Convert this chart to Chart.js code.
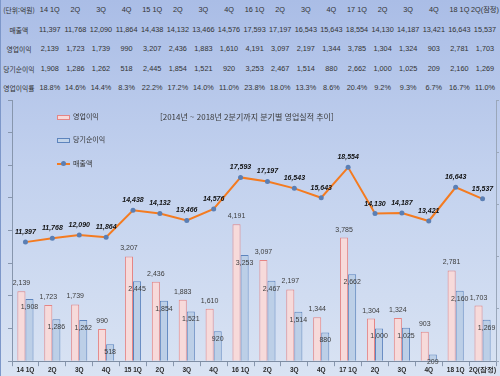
<!DOCTYPE html>
<html lang="ko">
<head>
<meta charset="UTF-8">
<title>분기별 영업실적 추이</title>
<script src="https://cdn.jsdelivr.net/npm/chart.js"></script>
<style>
  body { margin: 0; }
  #wrap {
    position: relative; width: 500px; height: 376px; overflow: hidden;
    background: linear-gradient(#aabde6 0%, #c2d1ee 45%, #d9e3f3 100%);
    font-family: "Liberation Sans", "Noto Sans CJK KR", sans-serif;
    color: #333;
  }
  #wrap::before {
    content: ""; position: absolute; left: 0; top: 0; width: 1px; height: 376px; background: #7d97c9;
  }
  canvas { position: absolute; left: 0; top: 0; }
  .cell {
    position: absolute; width: 40px; text-align: center; font-size: 7.3px;
    line-height: 12px; white-space: nowrap;
  }
  .rowlab { font-family: "Noto Sans CJK KR", sans-serif; font-size: 6.8px; }
  #title {
    position: absolute; left: 160px; top: 111px; font-size: 8px; color: #3a3a3a;
    font-family: "Noto Sans CJK KR", sans-serif; white-space: nowrap; z-index: 2;
  }
  .leg { position: absolute; left: 57px; font-size: 7px; font-family: "Noto Sans CJK KR", sans-serif; color: #333; z-index: 2; }
  .leg i { display: inline-block; width: 11px; height: 3px; vertical-align: middle; margin-right: 3px; }
</style>
</head>
<body>
<div id="wrap">
  <div id="tbl"></div>
  <div id="title">[2014년 ~ 2018년 2분기까지 분기별 영업실적 추이]</div>
  <div class="leg" style="top:111px"><i style="background:#f7dada;border:1px solid #e58585"></i>영업이익</div>
  <div class="leg" style="top:134px"><i style="background:#c2d4ea;border:1px solid #5d84bd"></i>당기순이익</div>
  <div class="leg" style="top:158px"><i style="background:#f47b20;height:2px;width:13px;position:relative"><b style="position:absolute;left:4px;top:-2px;width:5px;height:5px;border-radius:50%;background:#5b7fb4"></b></i>매출액</div>
  <canvas id="chart" width="500" height="376"></canvas>
</div>
<script>
  // 단위: 억원
  const quarters = ['14 1Q', '2Q', '3Q', '4Q', '15 1Q', '2Q', '3Q', '4Q', '16 1Q', '2Q', '3Q', '4Q', '17 1Q', '2Q', '3Q', '4Q', '18 1Q', '2Q(잠정)'];
  const sales = [11397, 11768, 12090, 11864, 14438, 14132, 13466, 14576, 17593, 17197, 16543, 15643, 18554, 14130, 14187, 13421, 16643, 15537];
  const opProfit = [2139, 1723, 1739, 990, 3207, 2436, 1883, 1610, 4191, 3097, 2197, 1344, 3785, 1304, 1324, 903, 2781, 1703];
  const netProfit = [1908, 1286, 1262, 518, 2445, 1854, 1521, 920, 3253, 2467, 1514, 880, 2662, 1000, 1025, 209, 2160, 1269];
  const opMargin = ['18.8%', '14.6%', '14.4%', '8.3%', '22.2%', '17.2%', '14.0%', '11.0%', '23.8%', '18.0%', '13.3%', '8.6%', '20.4%', '9.2%', '9.3%', '6.7%', '16.7%', '11.0%'];

  const fmt = v => v.toLocaleString('en-US');

  // 상단 표
  const tbl = document.getElementById('tbl');
  const rows = [
    ['(단위:억원)', quarters],
    ['매출액', sales.map(fmt)],
    ['영업이익', opProfit.map(fmt)],
    ['당기순이익', netProfit.map(fmt)],
    ['영업이익률', opMargin]
  ];
  rows.forEach((r, ri) => {
    const y = 10 + ri * 19.5 - 6;
    const lab = document.createElement('div');
    lab.className = 'cell rowlab';
    lab.style.left = (19 - 20) + 'px';
    lab.style.top = y + 'px';
    lab.textContent = r[0];
    tbl.appendChild(lab);
    r[1].forEach((t, ci) => {
      const d = document.createElement('div');
      d.className = 'cell';
      if (/[가-힣]/.test(t)) d.style.fontFamily = '"Liberation Sans", "Noto Sans CJK KR", sans-serif';
      d.style.left = (49.8 + ci * 25.6 - 20) + 'px';
      d.style.top = y + 'px';
      d.textContent = t;
      tbl.appendChild(d);
    });
  });

  // 값 라벨
  const valueLabels = {
    id: 'valueLabels',
    afterDatasetsDraw(chart) {
      const ctx = chart.ctx;
      ctx.save();
      ctx.textAlign = 'center';
      ctx.textBaseline = 'middle';
      chart.data.datasets.forEach((ds, i) => {
        const meta = chart.getDatasetMeta(i);
        meta.data.forEach((el, j) => {
          const txt = fmt(ds.data[j]);
          if (ds.type === 'line') {
            ctx.font = 'italic bold 7px "Liberation Sans"';
            ctx.fillStyle = '#111';
            ctx.fillText(txt, el.x, el.y - 10);
          } else if (i === 0) {
            ctx.font = '7px "Liberation Sans"';
            ctx.fillStyle = '#3c3c3c';
            ctx.fillText(txt, el.x, el.y - 8);
          } else {
            ctx.font = '7px "Liberation Sans"';
            ctx.fillStyle = '#3c3c3c';
            ctx.fillText(txt, el.x, el.y + 8);
          }
        });
      });
      ctx.restore();
    }
  };

  new Chart(document.getElementById('chart'), {
    data: {
      labels: quarters,
      datasets: [
        {
          type: 'bar', label: '영업이익', data: opProfit, yAxisID: 'y', order: 1,
          backgroundColor: '#f7dada', borderColor: '#e58585', borderWidth: 1,
          categoryPercentage: 0.6, barPercentage: 1.0
        },
        {
          type: 'bar', label: '당기순이익', data: netProfit, yAxisID: 'y', order: 1,
          backgroundColor: '#bccfe7', borderColor: '#5d84bd', borderWidth: 1,
          categoryPercentage: 0.6, barPercentage: 1.0
        },
        {
          type: 'line', label: '매출액', data: sales, yAxisID: 'y1', order: 0,
          borderColor: '#f47b20', borderWidth: 2, tension: 0,
          pointRadius: 2.5, pointBackgroundColor: '#5b7fb4', pointBorderColor: '#5b7fb4', pointBorderWidth: 0
        }
      ]
    },
    options: {
      responsive: false,
      animation: false,
      layout: { padding: { top: 100, left: 8, right: 0, bottom: 2 } },
      plugins: { legend: { display: false }, tooltip: { enabled: false } },
      scales: {
        x: {
          grid: { drawOnChartArea: false, tickLength: 5, color: '#8796ad' },
          border: { color: '#7e8da3' },
          ticks: { padding: 0, color: '#2a2a2a', font: { size: 6.5, weight: 'bold', family: 'Liberation Sans' }, maxRotation: 0, autoSkip: false }
        },
        y: {
          position: 'left', min: 0, max: 8000,
          ticks: { display: false, stepSize: 1000 },
          grid: { drawOnChartArea: false, tickLength: 4, color: '#8796ad' },
          border: { color: '#8796ad' }
        },
        y1: {
          position: 'right', min: 0, max: 25000,
          ticks: { display: false, stepSize: 5000 },
          grid: { drawOnChartArea: false, tickLength: 3, color: '#9aa7ba' },
          border: { color: '#9aa7ba' }
        }
      }
    },
    plugins: [valueLabels]
  });
</script>
</body>
</html>
